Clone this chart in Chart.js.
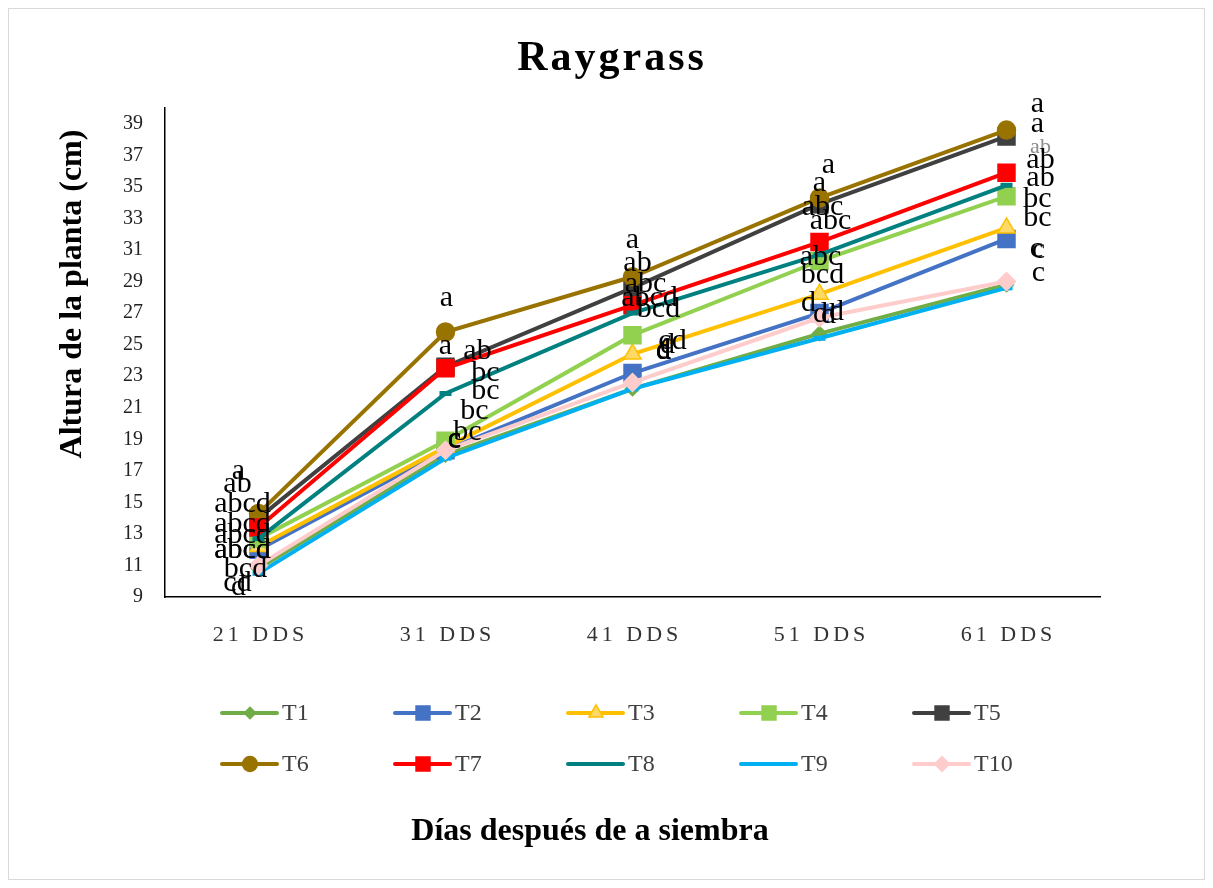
<!DOCTYPE html>
<html>
<head>
<meta charset="utf-8">
<script src="https://cdn.jsdelivr.net/npm/chart.js@4.4.1/dist/chart.umd.min.js"></script>
<style>
  html, body { margin: 0; padding: 0; background: #ffffff; }
  #wrap { width: 1213px; height: 888px; position: relative; }
</style>
</head>
<body>
<div id="wrap"><canvas id="chart" width="1213" height="888"></canvas></div>
<script>
// Days after sowing
const categories = ['21 DDS', '31 DDS', '41 DDS', '51 DDS', '61 DDS'];
const yTicks = [9, 11, 13, 15, 17, 19, 21, 23, 25, 27, 29, 31, 33, 35, 37, 39];
const seriesNames = ['T1', 'T2', 'T3', 'T4', 'T5', 'T6', 'T7', 'T8', 'T9', 'T10'];

// Plant height (cm) per treatment
const t1 = [10.8, 18.0, 22.2, 25.7, 28.8];
const t2 = [12.0, 18.3, 23.2, 27.0, 31.7];
const t3 = [12.2, 18.5, 24.4, 28.2, 32.4];
const t4 = [12.7, 18.9, 25.6, 30.3, 34.4];
const t5 = [14.0, 23.6, 28.6, 33.9, 38.2];
const t6 = [14.3, 25.8, 29.3, 34.3, 38.6];
const t7 = [13.4, 23.5, 27.5, 31.5, 35.9];
const t8 = [12.7, 21.9, 27.0, 30.7, 35.1];
const t9 = [10.5, 17.8, 22.2, 25.4, 28.6];
const t10 = [11.0, 18.3, 22.6, 26.7, 29.0];

// Mean-separation letters per treatment
const t1Letters = ['cd', 'c', 'd', 'd', 'c'];
const t2Letters = ['abcd', 'bc', 'd', 'd', 'bc'];
const t3Letters = ['abcd', 'bc', 'cd', 'bcd', 'bc'];
const t4Letters = ['abcd', 'bc', 'bcd', 'abc', 'ab'];
const t5Letters = ['ab', 'ab', 'ab', 'a', 'a'];
const t6Letters = ['a', 'a', 'a', 'a', 'a'];
const t7Letters = ['abcd', 'a', 'abc', 'abc', 'ab'];
const t8Letters = ['abcd', 'bc', 'abcd', 'abc', 'ab'];
const t9Letters = ['d', 'c', 'd', 'd', 'c'];
const t10Letters = ['bcd', 'c', 'd', 'd', 'c'];

const values = [t1, t2, t3, t4, t5, t6, t7, t8, t9, t10];
const letters = [t1Letters, t2Letters, t3Letters, t4Letters, t5Letters,
                 t6Letters, t7Letters, t8Letters, t9Letters, t10Letters];

// Series styling: line colour, marker style, marker size, marker fill
const styles = [
  { color: '#70AD47', point: 'rectRot', r: 7,  fill: '#70AD47' },
  { color: '#4472C4', point: 'rect',    r: 12, fill: '#4472C4' },
  { color: '#FFC000', point: 'triangle',r: 10, fill: '#FFD966' },
  { color: '#92D050', point: 'rect',    r: 12, fill: '#92D050' },
  { color: '#404040', point: 'rect',    r: 12, fill: '#404040' },
  { color: '#997300', point: 'circle',  r: 9,  fill: '#997300' },
  { color: '#FF0000', point: 'rect',    r: 12, fill: '#FF0000' },
  { color: '#00807F', point: 'line',    r: 6,  fill: '#00807F' },
  { color: '#00B0F0', point: 'line',    r: 6,  fill: '#00B0F0' },
  { color: '#FFCCCC', point: 'rectRot', r: 9,  fill: '#FFCCCC' }
];

// Letter placement relative to each marker [dx, dy] (pixels, baseline)
const labelNudge = [
  [[-21, 22], [9, -8],   [31, -30], [17, -14], [30, -28]],
  [[-16, 8],  [22, -10], [35, -20], [-11, -2], [31, -13]],
  [[-16, 11], [29, -28], [40, -5],  [3, -11],  [31, -21]],
  [[-16, 4],  [40, -42], [26, -18], [1, 4],    [34, -10]],
  [[-21, -26],[32, -8],  [5, -17],  [0, -13],  [31, -4]],
  [[-20, -34],[1, -26],  [0, -29],  [9, -25],  [31, -18]],
  [[-16, -16],[0, -14],  [13, -13], [3, -27],  [34, -20]],
  [[-16, -7], [40, -13], [17, -7],  [11, -26], [34, -17]],
  [[-20, 22], [9, -10],  [31, -30], [9, -15],  [32, -7]],
  [[-13, 12], [9, -3],   [31, -24], [1, 4],    [32, -24]]
];
// Lighter, smaller letter (T7 at 61 DDS)
const mutedLabel = { series: 6, index: 4 };

const SERIF = '"Liberation Serif", "Times New Roman", serif';

function drawMarker(ctx, st, x, y, scale) {
  ctx.save();
  ctx.fillStyle = st.fill;
  ctx.strokeStyle = st.color;
  ctx.lineWidth = 1.5;
  if (Chart.helpers && Chart.helpers.drawPoint) {
    Chart.helpers.drawPoint(ctx, { pointStyle: st.point, radius: st.r * scale, rotation: 0, borderWidth: 1.5 }, x, y);
  }
  ctx.restore();
}

const decorPlugin = {
  id: 'decor',
  beforeDraw(chart) {
    const ctx = chart.ctx;
    ctx.save();
    ctx.fillStyle = '#ffffff';
    ctx.fillRect(0, 0, chart.width, chart.height);
    ctx.strokeStyle = '#d9d9d9';
    ctx.lineWidth = 1;
    ctx.strokeRect(8.5, 8.5, 1196, 871);
    ctx.restore();
  },
  afterDatasetsDraw(chart) {
    const ctx = chart.ctx;
    // significance letters
    ctx.save();
    ctx.textAlign = 'center';
    ctx.textBaseline = 'alphabetic';
    values.forEach((vals, s) => {
      const meta = chart.getDatasetMeta(s);
      meta.data.forEach((pt, i) => {
        const muted = s === mutedLabel.series && i === mutedLabel.index;
        ctx.font = muted ? '22px ' + SERIF : '30px ' + SERIF;
        ctx.fillStyle = muted ? '#8c8c8c' : '#000000';
        const [dx, dy] = labelNudge[s][i];
        ctx.fillText(letters[s][i], pt.x + dx, pt.y + dy);
      });
    });
    ctx.restore();
  },
  afterDraw(chart) {
    const ctx = chart.ctx;
    const area = chart.chartArea;
    const xs = chart.scales.x;
    ctx.save();

    // chart title
    ctx.fillStyle = '#000000';
    ctx.textAlign = 'center';
    ctx.textBaseline = 'alphabetic';
    ctx.font = 'bold 42px ' + SERIF;
    ctx.letterSpacing = '3px';
    ctx.fillText('Raygrass', 612, 70);

    // category labels
    ctx.font = '22px ' + SERIF;
    ctx.letterSpacing = '4px';
    ctx.fillStyle = '#333333';
    categories.forEach((c, i) => {
      ctx.fillText(c, xs.getPixelForValue(i) + 2, area.bottom + 44);
    });
    ctx.letterSpacing = '0px';

    // axis titles
    ctx.fillStyle = '#000000';
    ctx.font = 'bold 32px ' + SERIF;
    ctx.fillText('Días después de a siembra', 590, 840);
    ctx.save();
    ctx.translate(81, 294);
    ctx.rotate(-Math.PI / 2);
    ctx.fillText('Altura de la planta (cm)', 0, 0);
    ctx.restore();

    // legend: two rows of five
    ctx.font = '24px ' + SERIF;
    ctx.textAlign = 'left';
    ctx.textBaseline = 'middle';
    seriesNames.forEach((name, k) => {
      const col = k % 5, row = Math.floor(k / 5);
      const x0 = 222 + col * 173;
      const y0 = 713 + row * 51;
      const st = styles[k];
      ctx.strokeStyle = st.color;
      ctx.lineWidth = 4;
      ctx.lineCap = 'round';
      ctx.beginPath();
      ctx.moveTo(x0, y0);
      ctx.lineTo(x0 + 55, y0);
      ctx.stroke();
      if (st.point !== 'line') drawMarker(ctx, st, x0 + 28, y0, 0.82);
      ctx.fillStyle = '#404040';
      ctx.fillText(name, x0 + 60, y0 + 1);
    });
    ctx.restore();
  }
};

const datasets = seriesNames.map((name, k) => ({
  label: name,
  data: values[k],
  borderColor: styles[k].color,
  backgroundColor: styles[k].fill,
  borderWidth: 4,
  pointStyle: styles[k].point,
  pointRadius: styles[k].r,
  pointBorderColor: styles[k].color,
  pointBackgroundColor: styles[k].fill,
  pointBorderWidth: styles[k].point === 'line' ? 5 : 1.5,
  tension: 0,
  fill: false,
  order: seriesNames.length - k
}));

new Chart(document.getElementById('chart'), {
  type: 'line',
  data: { labels: categories, datasets },
  plugins: [decorPlugin],
  options: {
    responsive: false,
    devicePixelRatio: 1,
    animation: false,
    layout: { padding: { left: 0, right: 113, top: 108, bottom: 291 } },
    plugins: { legend: { display: false }, title: { display: false }, tooltip: { enabled: false } },
    scales: {
      x: {
        type: 'category',
        offset: true,
        grid: { display: false, drawTicks: false },
        border: { display: true, color: '#000000', width: 1.5 },
        ticks: { display: false },
        afterFit(scale) { scale.height = 0; }
      },
      y: {
        min: 9,
        max: 40,
        grid: { display: false, drawTicks: false },
        border: { display: true, color: '#000000', width: 1.5 },
        afterBuildTicks(scale) { scale.ticks = yTicks.map(v => ({ value: v })); },
        afterFit(scale) { scale.width = 165; },
        ticks: {
          autoSkip: false,
          padding: 22,
          color: '#222222',
          font: { family: SERIF, size: 20 },
          callback: v => String(v)
        }
      }
    }
  }
});
</script>
</body>
</html>
